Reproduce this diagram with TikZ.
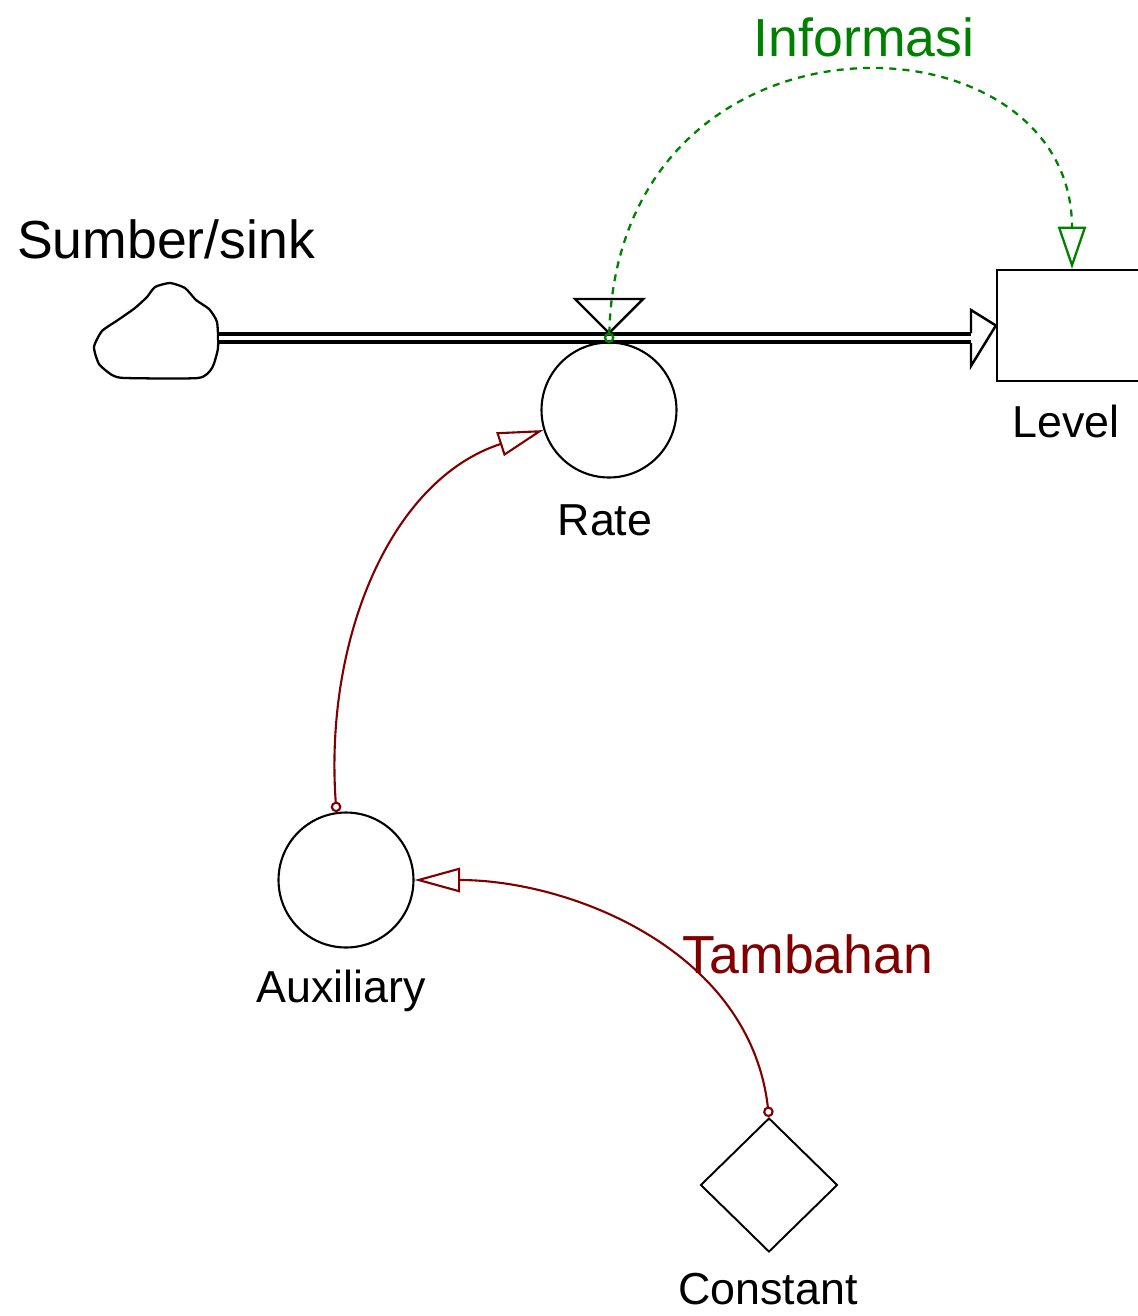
\documentclass[tikz,border=0pt]{standalone}
\usepackage{fontspec}
\setmainfont{Liberation Sans}
\usetikzlibrary{arrows.meta,shapes.geometric,positioning}
\definecolor{infogreen}{RGB}{0,128,0}
\definecolor{linkred}{RGB}{128,0,0}
\tikzset{
  varcirc/.style={draw, circle, line width=1.2pt, minimum size=2.7cm, inner sep=0pt},
  namelbl/.style={font=\fontsize{25.5}{30}\selectfont, inner sep=0pt, anchor=base},
  biglbl/.style={font=\fontsize{30.5}{36}\selectfont, inner sep=0pt, anchor=base},
  infolink/.style={infogreen, line width=1.3pt, dash pattern=on 4pt off 3.5pt,
    {Circle[open,length=6pt]}-{Triangle[open,length=24pt,width=16pt]}},
  auxlink/.style={linkred, line width=1.2pt,
    {Circle[open,length=6pt]}-{Triangle[open,length=26pt,width=14pt]}}
}
\begin{document}
\begin{tikzpicture}[x=0.02cm, y=-0.02cm]
\useasboundingbox (0,0) rectangle (1138,1316);

% source / sink cloud
\draw[line width=1.3pt] plot[smooth cycle, tension=0.35] coordinates {
  (170,283) (155,287) (147,297) (135,308) (118,320) (102,331) (94,347)
  (99,364) (112,375) (125,378) (198,378) (212,368) (218,348) (217,322)
  (209,309) (196,300) (185,288)};
\coordinate (sink) at (219,338);
\node[biglbl] (sinklbl) at (166,258) {Sumber/sink};

% level
\node[draw, line width=1.3pt, minimum width=3cm, minimum height=2.22cm,
  inner sep=0pt] (level) at (1072,325.5) {};
\node[namelbl] (levellbl) at (1066,437) {Level};

% flow pipe
\coordinate (pipeend) at (971,338);
\draw[line width=1.8pt, double distance=2.8pt] (sink) -- (pipeend);
\draw[line width=1.4pt, line join=miter] (971,333) -- (971,310) -- (level.west)
  -- (971,366) -- (971,343);

% valve and rate
\node[varcirc] (rate) at (609,410) {};
\draw[line width=1.4pt, fill=white] (575,299) -- (643,299) -- (609,333) -- cycle;
\coordinate (valve) at (609,343);
\node[namelbl] (ratelbl) at (605,535) {Rate};

% auxiliary
\node[varcirc] (aux) at (346,880) {};
\node[namelbl] (auxlbl) at (341,1002) {Auxiliary};

% constant
\node[draw, diamond, aspect=1, line width=1.1pt, minimum width=2.74cm,
  minimum height=2.68cm, inner sep=0pt] (const) at (769,1185) {};
\node[namelbl] (constlbl) at (768,1304) {Constant};

% links
\draw[infolink] (valve) .. controls (618,-8) and (1072,6) .. (level.north);
\node[biglbl, text=infogreen] (infolbl) at (864,56) {Informasi};

\draw[auxlink] (aux.98) .. controls (324,640) and (390,480) .. (rate.197);
\draw[auxlink] (const.north) .. controls (750,950) and (570,880) .. (aux.east);
\node[biglbl, text=linkred] (addlbl) at (808,973) {Tambahan};

\end{tikzpicture}
\end{document}
